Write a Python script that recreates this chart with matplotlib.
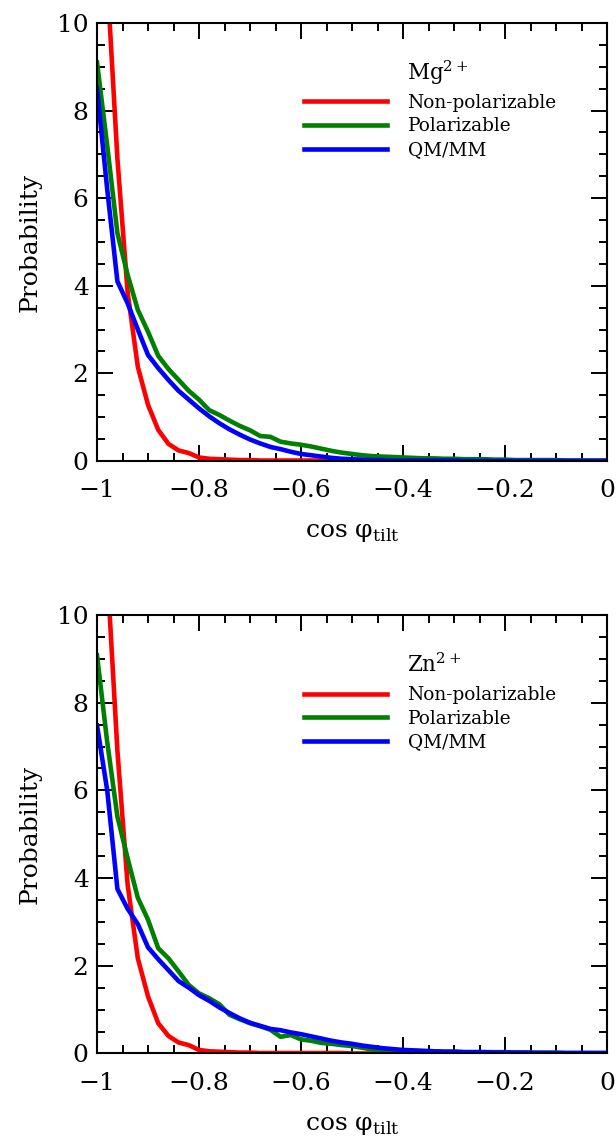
import numpy as np
import matplotlib
matplotlib.use("Agg")
import matplotlib.pyplot as plt
from matplotlib.ticker import MultipleLocator

plt.rcParams['font.family'] = ['DejaVu Serif']
plt.rcParams['mathtext.fontset'] = 'custom'
plt.rcParams['mathtext.rm'] = 'DejaVu Serif'

# cos(phi_tilt) grid, step 0.02
cos_tilt = np.round(np.arange(-1.0, 0.0001, 0.02), 2)

# --- Mg2+ ---
mg_nonpol = [20.0, 11.0, 6.9, 3.85, 2.15, 1.28, 0.71, 0.39, 0.24, 0.18,
             0.08, 0.05, 0.04, 0.03, 0.02, 0.02, 0.01, 0.01, 0.01, 0.01,
             0.01, 0.01, 0.01, 0.01, 0.01, 0.0, 0.0, 0.0, 0.0, 0.0,
             0.0, 0.0, 0.0, 0.0, 0.0, 0.0, 0.0, 0.0, 0.0, 0.0,
             0.0, 0.0, 0.0, 0.0, 0.0, 0.0, 0.0, 0.0, 0.0, 0.0, 0.0]
mg_pol = [9.1, 7.2, 5.2, 4.25, 3.45, 2.95, 2.4, 2.1, 1.85, 1.6,
          1.4, 1.16, 1.05, 0.92, 0.80, 0.70, 0.57, 0.55, 0.44, 0.40,
          0.37, 0.33, 0.28, 0.23, 0.19, 0.16, 0.13, 0.11, 0.10, 0.09,
          0.08, 0.07, 0.06, 0.06, 0.05, 0.05, 0.04, 0.04, 0.04, 0.03,
          0.03, 0.02, 0.02, 0.02, 0.02, 0.02, 0.01, 0.01, 0.01, 0.01, 0.01]
mg_qmmm = [8.5, 6.2, 4.1, 3.6, 3.0, 2.42, 2.12, 1.85, 1.6, 1.4,
           1.2, 1.02, 0.86, 0.72, 0.60, 0.49, 0.40, 0.32, 0.27, 0.21,
           0.16, 0.13, 0.10, 0.07, 0.05, 0.04, 0.03, 0.02, 0.02, 0.01,
           0.01, 0.01, 0.01, 0.01, 0.01, 0.01, 0.0, 0.0, 0.0, 0.0,
           0.0, 0.0, 0.0, 0.0, 0.0, 0.0, 0.0, 0.0, 0.0, 0.0, 0.0]

# --- Zn2+ ---
zn_nonpol = [20.0, 11.0, 6.9, 3.85, 2.17, 1.30, 0.69, 0.40, 0.25, 0.19,
             0.08, 0.05, 0.04, 0.03, 0.02, 0.02, 0.01, 0.01, 0.01, 0.01,
             0.01, 0.01, 0.01, 0.01, 0.01, 0.0, 0.0, 0.0, 0.0, 0.0,
             0.0, 0.0, 0.0, 0.0, 0.0, 0.0, 0.0, 0.0, 0.0, 0.0,
             0.0, 0.0, 0.0, 0.0, 0.0, 0.0, 0.0, 0.0, 0.0, 0.0, 0.0]
zn_pol = [9.08, 7.1, 5.4, 4.45, 3.55, 3.05, 2.40, 2.17, 1.87, 1.56,
          1.37, 1.26, 1.12, 0.88, 0.78, 0.69, 0.62, 0.54, 0.38, 0.42,
          0.32, 0.29, 0.24, 0.22, 0.19, 0.17, 0.13, 0.09, 0.08, 0.07,
          0.06, 0.06, 0.05, 0.05, 0.04, 0.04, 0.03, 0.03, 0.03, 0.03,
          0.03, 0.02, 0.02, 0.02, 0.02, 0.02, 0.01, 0.01, 0.01, 0.01, 0.01]
zn_qmmm = [7.48, 6.0, 3.75, 3.3, 2.95, 2.42, 2.15, 1.9, 1.65, 1.50,
           1.33, 1.2, 1.05, 0.92, 0.80, 0.70, 0.63, 0.56, 0.53, 0.48,
           0.44, 0.39, 0.34, 0.29, 0.25, 0.22, 0.18, 0.15, 0.12, 0.10,
           0.08, 0.07, 0.06, 0.05, 0.04, 0.04, 0.03, 0.03, 0.03, 0.02,
           0.02, 0.02, 0.02, 0.01, 0.01, 0.01, 0.01, 0.01, 0.01, 0.01, 0.01]

series_names = ["Non-polarizable", "Polarizable", "QM/MM"]
series_colors = ["#ff0000", "#008000", "#0000ff"]
ion_labels = [r"Mg$^{2+}$", r"Zn$^{2+}$"]
x_ticks = [-1, -0.8, -0.6, -0.4, -0.2, 0]
x_ticklabels = ["\u22121", "\u22120.8", "\u22120.6", "\u22120.4", "\u22120.2", "0"]

panels = [(mg_nonpol, mg_pol, mg_qmmm), (zn_nonpol, zn_pol, zn_qmmm)]

fig = plt.figure(figsize=(6.16, 11.39), dpi=100)
rects = [[0.1575, 0.5953, 0.8279, 0.3845],
         [0.1575, 0.0751, 0.8279, 0.3850]]

for rect, data, ion in zip(rects, panels, ion_labels):
    ax = fig.add_axes(rect)
    for ys, name, col in zip(data, series_names, series_colors):
        ax.plot(cos_tilt, ys, color=col, lw=3.3, label=name, solid_joinstyle='round')
    ax.set_xlim(-1, 0)
    ax.set_ylim(0, 10)
    ax.set_xticks(x_ticks)
    ax.set_xticklabels(x_ticklabels)
    ax.yaxis.set_major_locator(MultipleLocator(2))
    ax.xaxis.set_minor_locator(MultipleLocator(0.05))
    ax.yaxis.set_minor_locator(MultipleLocator(0.5))
    ax.tick_params(which='both', direction='in', top=True, right=True, width=1.4)
    ax.tick_params(which='major', length=11.5)
    ax.tick_params(which='minor', length=5.8)
    ax.tick_params(axis='x', which='major', labelsize=18, pad=13)
    ax.tick_params(axis='y', which='major', labelsize=18, pad=6)
    for sp in ax.spines.values():
        sp.set_linewidth(1.5)
    ax.set_ylabel("Probability", fontsize=18, labelpad=11)
    ax.set_xlabel(r"cos φ$_{\mathrm{tilt}}$", fontsize=18, labelpad=14)
    ax.text(0.608, 0.87, ion, transform=ax.transAxes, fontsize=15.5, va='baseline')
    ax.legend(loc='upper left', bbox_to_anchor=(0.406, 0.838), frameon=False,
              fontsize=13.3, handlelength=4.5, handletextpad=1.1,
              labelspacing=0.3, borderpad=0, borderaxespad=0)

fig.savefig("out.png", dpi=100)
